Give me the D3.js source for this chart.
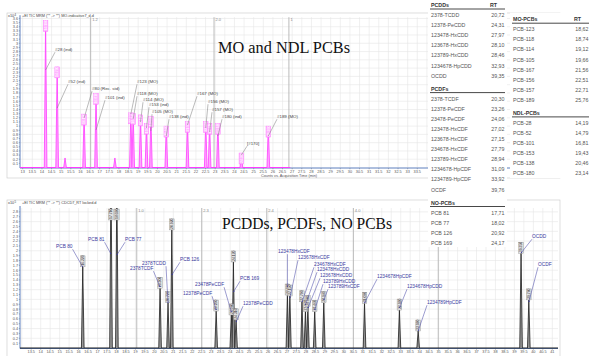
<!DOCTYPE html>
<html>
<head>
<meta charset="utf-8">
<script src="https://cdn.jsdelivr.net/npm/d3@7"></script>
<style>
  body { margin: 0; background: #fff; }
  svg { display: block; font-family: "Liberation Sans", Arial, sans-serif; }
</style>
</head>
<body>
<div id="chart"></div>
<script>
// ---- top trace: MO / NDL PCBs (x10^4 counts) ----
const topNames = ["#28 (ind)", "#52 (ind)", "", "#80 (Rec. std)", "#101 (ind)", "", "#123 (MO)", "#118 (MO)",
  "#114 (MO)", "#153 (ind)", "#105 (MO)", "#138 (ind)", "#167 (MO)", "#156 (MO)", "#157 (MO)", "#180 (ind)",
  "[#170]", "#189 (MO)"];
const topRT = [14.19, 14.79, 15.20, 16.19, 16.81, 17.79, 18.62, 18.74, 19.12, 19.43, 19.66, 20.46, 21.56,
  22.51, 22.71, 23.14, 24.36, 25.76];
const topHeight = [3.55, 2.43, 0.23, 1.29, 1.79, 0.23, 1.32, 1.30, 1.27, 1.07, 1.24, 1.00, 1.11, 1.11, 1.07,
  1.07, 0.35, 1.00];
const topCursorRT = [16.53, 22.94, 26.83];
const topCursorLabels = ["1.2", "2.0", "1"];

// ---- bottom trace: PCDDs, PCDFs, NO PCBs ----
const botNames = ["PCB 80", "PCB 81", "PCB 77", "2378TCDF", "2378TCDD", "PCB 126", "12378PeCDF", "23478PeCDF",
  "PCB 169", "12378PeCDD", "123478HxCDF", "123678HxCDF", "234678HxCDF", "123478HxCDD", "123678HxCDD",
  "123789HxCDD", "123789HxCDF", "1234678HpCDF", "1234678HpCDD", "1234789HpCDF", "OCDD", "OCDF"];
const botRT = [16.22, 17.71, 18.02, 20.30, 20.72, 20.92, 23.26, 24.06, 24.17, 24.31, 27.02, 27.15, 27.79,
  27.97, 28.10, 28.46, 28.94, 31.09, 32.93, 33.92, 39.35, 39.76];
const botHeight = [1.67, 3.6, 3.4, 1.23, 0.93, 2.43, 0.76, 0.68, 1.77, 0.58, 1.09, 1.07, 0.95, 0.75, 0.85,
  0.75, 0.93, 0.92, 0.78, 0.35, 1.95, 0.99];
const botCursorRT = [19.07, 22.5, 25.93, 30.5, 34.98];
const botCursorLabels = ["1.0", "2.3", "2.4", "4.0", "3.5"];

// ---- retention time tables ----
const pcddNames = ["2378-TCDD", "12378-PeCDD", "123478-HxCDD", "123678-HxCDD", "123789-HxCDD", "1234678-HpCDD", "OCDD"];
const pcddRT = ["20,72", "24,31", "27,97", "28,10", "28,46", "32,93", "39,35"];
const pcdfNames = ["2378-TCDF", "12378-PeCDF", "23478-PeCDF", "123478-HxCDF", "123678-HxCDF", "234678-HxCDF",
  "123789-HxCDF", "1234678-HpCDF", "1234789-HpCDF", "OCDF"];
const pcdfRT = ["20,30", "23,26", "24,06", "27,02", "27,15", "27,79", "28,94", "31,09", "33,92", "39,76"];
const noPcbNames = ["PCB 81", "PCB 77", "PCB 126", "PCB 169"];
const noPcbRT = ["17,71", "18,02", "20,92", "24,17"];
const moPcbNames = ["PCB-123", "PCB-118", "PCB-114", "PCB-105", "PCB-167", "PCB-156", "PCB-157", "PCB-189"];
const moPcbRT = ["18,62", "18,74", "19,12", "19,66", "21,56", "22,51", "22,71", "25,76"];
const ndlPcbNames = ["PCB-28", "PCB-52", "PCB-101", "PCB-153", "PCB-138", "PCB-180"];
const ndlPcbRT = ["14,19", "14,79", "16,81", "19,43", "20,46", "23,14"];

// callout placement in px: [label x, label baseline y, leader end y]
const topCallouts = [[55, 51, 70], [68, 83, 108], null, [92, 90, 118], [105, 99, 130], null, [137, 83, 114],
  [137, 95, 119], [143, 101, 122], [149, 106, 128], [152, 113, 131], [169, 118, 136], [197, 95, 125],
  [208, 103, 128], [212, 111, 132], [222, 118, 136], [247, 145, 155], [277, 118, 136]];
const botCallouts = [[56, 248, 267], [88, 241, 254], [125, 241, 255], [130, 270, 287], [142, 265, 303],
  [180, 261, 275], [183, 295, 310], [195, 286, 312], [240, 280, 292], [243, 305, 322], [278, 253, 287],
  [298, 259, 298], [314, 266, 302], [317, 271, 305], [320, 277, 308], [323, 283, 310], [328, 288, 300],
  [377, 278, 303], [407, 288, 308], [427, 304, 331], [532, 238, 253], [538, 266, 302]];

// table boxes that sit on top of the traces: [x, y, w, bottom]
const tableBoxes = [[428, -1.5, 79, 247], [510, 12.7, 81, 178]];
const covered = (px, py) => tableBoxes.some(b => px > b[0] - 6 && px < b[0] + b[2] + 6 && py > b[1] && py < b[3] + 3);

const W = 591, H = 356;
const svg = d3.select("#chart").append("svg").attr("width", W).attr("height", H);
svg.append("rect").attr("width", W).attr("height", H).attr("fill", "#fff");

const defs = svg.append("defs");
defs.append("marker").attr("id", "arrow").attr("viewBox", "0 0 6 6")
  .attr("refX", 5).attr("refY", 3).attr("markerWidth", 3).attr("markerHeight", 3)
  .attr("orient", "auto")
  .append("path").attr("d", "M0,0L6,3L0,6Z").attr("fill", "#3a3aa0");

function drawChart(cfg, id) {
  const g = svg.append("g");
  g.append("rect").attr("x", cfg.panel[0]).attr("y", cfg.panel[1])
    .attr("width", cfg.panel[2]).attr("height", cfg.panel[3])
    .attr("fill", "#fff").attr("stroke", "#c8c8c8").attr("stroke-width", 0.6);

  const x = d3.scaleLinear().domain(cfg.xDomain).range(cfg.xRange);
  const y = d3.scaleLinear().domain(cfg.yDomain).range(cfg.yRange);
  const plotTop = cfg.yRange[1];
  const base = cfg.yRange[0];

  // grid
  const xGrid = d3.range(Math.ceil(cfg.xDomain[0] * 2) / 2, cfg.xDomain[1], 0.5);
  g.selectAll("line.vg").data(xGrid).join("line")
    .attr("x1", d => x(d)).attr("x2", d => x(d)).attr("y1", plotTop).attr("y2", base)
    .attr("stroke", "#e6e6e6").attr("stroke-width", 0.6);
  const yGrid = d3.range(0.2, cfg.yDomain[1], 0.2);
  g.selectAll("line.hg").data(yGrid).join("line")
    .attr("x1", cfg.xRange[0]).attr("x2", cfg.xRange[1]).attr("y1", d => y(d)).attr("y2", d => y(d))
    .attr("stroke", "#e6e6e6").attr("stroke-width", 0.6);

  // segment cursor lines
  g.selectAll("line.cur").data(cfg.cursors).join("line")
    .attr("x1", d => x(d)).attr("x2", d => x(d)).attr("y1", plotTop).attr("y2", base)
    .attr("stroke", "#b4b4b4").attr("stroke-width", 0.9);
  g.selectAll("text.cur").data(cfg.cursors.filter(d => !covered(x(d), plotTop + 4))).join("text")
    .attr("x", d => x(d) + 1.5).attr("y", plotTop + 4)
    .attr("font-size", 4).attr("fill", "#888")
    .text(d => cfg.cursorLabels[cfg.cursors.indexOf(d)]);

  // y axis ticks
  const yTicks = d3.range(1, Math.round(cfg.yMax * 10) + 1).map(i => i / 10);
  g.selectAll("text.yt").data(yTicks).join("text")
    .attr("x", cfg.xRange[0] - 2).attr("y", d => y(d) + 1.4)
    .attr("text-anchor", "end").attr("font-size", 3.8).attr("fill", "#555")
    .text(d => d3.format(".1~f")(d));
  g.selectAll("line.yt").data(yTicks).join("line")
    .attr("x1", cfg.xRange[0] - 1.2).attr("x2", cfg.xRange[0]).attr("y1", d => y(d)).attr("y2", d => y(d))
    .attr("stroke", "#555").attr("stroke-width", 0.4);

  // x axis ticks (only where not hidden below a table)
  const xTicks = d3.range(cfg.xFirst, cfg.xDomain[1], 0.5).filter(d => !covered(x(d), base + 4));
  g.selectAll("text.xt").data(xTicks).join("text")
    .attr("x", d => x(d)).attr("y", base + 5)
    .attr("text-anchor", "middle").attr("font-size", 3.8).attr("fill", "#555")
    .text(d => d3.format("~f")(d));
  g.selectAll("line.xt").data(xTicks).join("line")
    .attr("x1", d => x(d)).attr("x2", d => x(d)).attr("y1", base + 0.5).attr("y2", base + 1.8)
    .attr("stroke", "#555").attr("stroke-width", 0.4);

  // axis lines
  g.append("line").attr("x1", cfg.xRange[0]).attr("x2", cfg.xRange[0]).attr("y1", plotTop - 2).attr("y2", base + 0.5)
    .attr("stroke", "#4a6fb5").attr("stroke-width", 0.9);
  g.append("line").attr("x1", cfg.xRange[0]).attr("x2", cfg.xRange[1]).attr("y1", base + 0.5).attr("y2", base + 0.5)
    .attr("stroke", "#4a6fb5").attr("stroke-width", 0.9);

  // title row
  g.append("text").attr("x", cfg.panel[0] + 1).attr("y", cfg.panel[1] + 4)
    .attr("font-size", 3.8).attr("fill", "#444").text("x10");
  g.append("text").attr("x", cfg.panel[0] + 7.5).attr("y", cfg.panel[1] + 2.8)
    .attr("font-size", 2.8).attr("fill", "#444").text(cfg.exp);
  g.append("text").attr("x", cfg.xRange[0] + 2).attr("y", cfg.panel[1] + 4)
    .attr("font-size", 3.8).attr("fill", "#444").text(cfg.title);

  // traces
  defs.append("clipPath").attr("id", "clip" + id).append("rect")
    .attr("x", cfg.xRange[0]).attr("y", plotTop).attr("width", cfg.xRange[1] - cfg.xRange[0]).attr("height", base - plotTop + 1);
  const tg = g.append("g").attr("clip-path", `url(#clip${id})`);
  const line = d3.line().x(d => x(d[0])).y(d => y(d[1]));
  tg.append("path").attr("d", line([[cfg.xDomain[0], 0], [cfg.traceEnd, 0]]))
    .attr("fill", "none").attr("stroke", cfg.stroke).attr("stroke-width", 1.2);

  const peaks = cfg.rts.map((rt, i) => ({ rt, h: cfg.heights[i], name: cfg.names[i], call: cfg.callouts[i] }));
  tg.selectAll("path.peak").data(peaks).join("path")
    .attr("d", d => line([[d.rt - 0.07, 0], [d.rt, d.h], [d.rt + 0.07, 0]]))
    .attr("fill", cfg.fill).attr("stroke", cfg.stroke).attr("stroke-width", 0.8);

  // RT boxes
  const boxes = g.selectAll("g.box").data(peaks.filter(d => d.name)).join("g")
    .attr("transform", d => {
      const top = Math.max(y(d.h), plotTop);
      const y0 = cfg.boxBelow ? top : Math.max(top - 11, plotTop + 1);
      return `translate(${x(d.rt)},${y0})`;
    });
  boxes.append("rect").attr("x", -2.3).attr("y", 0).attr("width", 4.6).attr("height", 11)
    .attr("fill", cfg.boxFill).attr("stroke", cfg.boxStroke).attr("stroke-width", 0.4);
  boxes.append("text").attr("transform", "translate(1.2,10) rotate(-90)")
    .attr("font-size", 3.4).attr("fill", cfg.boxText)
    .text(d => d.rt.toFixed(3));

  // callouts
  peaks.filter(d => d.call && d.name).forEach(d => {
    const [lx, ly, ty] = d.call;
    const t = g.append("text").attr("x", lx).attr("y", ly)
      .attr("font-size", cfg.labelSize).attr("fill", cfg.labelColor).text(d.name);
    const w = t.node().getComputedTextLength();
    const px = x(d.rt);
    const sx = Math.max(lx, Math.min(lx + w, px));
    const ln = g.append("line").attr("x1", sx).attr("y1", ly + 1.2).attr("x2", px).attr("y2", ty)
      .attr("stroke", cfg.leaderColor).attr("stroke-width", 0.5);
    if (cfg.arrows) ln.attr("marker-end", "url(#arrow)");
  });

  // overlay caption
  g.append("text").attr("x", cfg.caption.x).attr("y", cfg.caption.y)
    .attr("font-family", "'Liberation Serif', 'Times New Roman', serif")
    .attr("font-size", cfg.caption.size).attr("fill", "#111")
    .attr("textLength", cfg.caption.len).attr("lengthAdjust", "spacingAndGlyphs")
    .text(cfg.caption.text);

  if (cfg.axisTitle) {
    g.append("text").attr("x", (cfg.xRange[0] + cfg.xRange[1]) / 2 + 0).attr("y", base + 9.5)
      .attr("text-anchor", "middle").attr("font-size", 3.8).attr("fill", "#555").text(cfg.axisTitle);
  }
}

drawChart({
  panel: [7, 13, 553, 165],
  xDomain: [12.86, 40.81], xRange: [20, 558], xFirst: 13,
  yDomain: [0, 3.63], yRange: [167.5, 17.2], yMax: 3.6,
  cursors: topCursorRT, cursorLabels: topCursorLabels,
  exp: "4", title: "+EI TIC MRM (** -> **) MO-indicative7_d.d",
  rts: topRT, heights: topHeight, names: topNames, callouts: topCallouts,
  traceEnd: 26.9, stroke: "#ff3cff", fill: "#ffa6ff",
  boxBelow: true, boxFill: "#ffb8ff", boxStroke: "#ff66ff", boxText: "#ffffff",
  labelSize: 4.4, labelColor: "#444", leaderColor: "#777", arrows: false,
  caption: { x: 218, y: 52.7, size: 17.5, len: 132, text: "MO and NDL PCBs" },
  axisTitle: "Counts vs. Acquisition Time (min)"
}, "top");

drawChart({
  panel: [7, 200, 553, 157],
  xDomain: [12.908, 41.30], xRange: [20, 558], xFirst: 13.5,
  yDomain: [0, 2.88], yRange: [348, 208], yMax: 2.8,
  cursors: botCursorRT, cursorLabels: botCursorLabels,
  exp: "5", title: "+EI TIC MRM (** -> **) CDCD7_RT locked.d",
  rts: botRT, heights: botHeight, names: botNames, callouts: botCallouts,
  traceEnd: 41.30, stroke: "#1e1e1e", fill: "#9a9a9a",
  boxBelow: false, boxFill: "#e2e2e2", boxStroke: "#8a8a8a", boxText: "#333",
  labelSize: 4.8, labelColor: "#3a3aa0", leaderColor: "#3a3aa0", arrows: true,
  caption: { x: 222, y: 229, size: 16.5, len: 170, text: "PCDDs, PCDFs, NO PCBs" },
  axisTitle: null
}, "bot");

// ---- RT tables ----
function drawTable(box, sections) {
  const [x0, y0, w, bottom] = box;
  const g = svg.append("g");
  g.append("rect").attr("x", x0).attr("y", y0).attr("width", w).attr("height", bottom - y0).attr("fill", "#fff");
  let cy = y0;
  sections.forEach(s => {
    g.append("text").attr("x", x0 + 3).attr("y", cy + 6.5 + 2).attr("font-size", 5.3)
      .attr("font-weight", "bold").attr("fill", "#333").text(s.title);
    if (s.rtHeader) {
      g.append("text").attr("x", x0 + w - 17).attr("y", cy + 6.5 + 2).attr("font-size", 5.3)
        .attr("font-weight", "bold").attr("fill", "#333").text("RT");
    }
    g.append("line").attr("x1", x0 + 2).attr("x2", x0 + w - 2).attr("y1", cy + 10.5).attr("y2", cy + 10.5)
      .attr("stroke", "#333").attr("stroke-width", 0.9);
    const rows = g.append("g").selectAll("g").data(s.names).join("g")
      .attr("transform", (d, i) => `translate(0,${cy + 16.5 + i * 10.1 + 2})`);
    rows.append("text").attr("x", x0 + 3).attr("font-size", 5.3).attr("fill", "#555").text(d => d);
    rows.append("text").attr("x", x0 + w - 2.5).attr("text-anchor", "end").attr("font-size", 5.3)
      .attr("fill", "#555").text((d, i) => s.rts[i]);
    cy = cy + 16.5 + (s.names.length - 1) * 10.1 + 6.5;
  });
}

drawTable(tableBoxes[0], [
  { title: "PCDDs", rtHeader: true, names: pcddNames, rts: pcddRT },
  { title: "PCDFs", rtHeader: false, names: pcdfNames, rts: pcdfRT },
  { title: "NO-PCBs", rtHeader: false, names: noPcbNames, rts: noPcbRT }
]);
drawTable(tableBoxes[1], [
  { title: "MO-PCBs", rtHeader: true, names: moPcbNames, rts: moPcbRT },
  { title: "NDL-PCBs", rtHeader: false, names: ndlPcbNames, rts: ndlPcbRT }
]);
</script>
</body>
</html>
